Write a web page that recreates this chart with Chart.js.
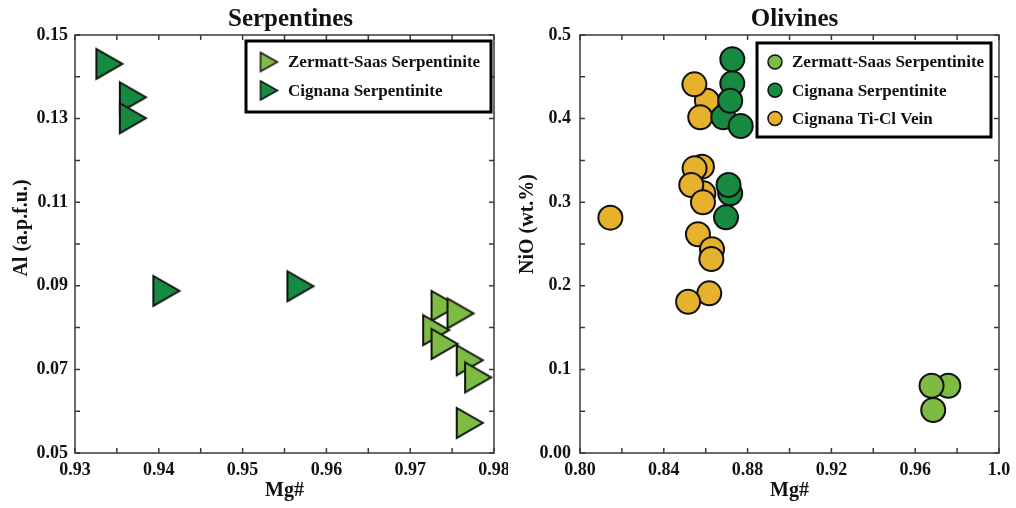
<!DOCTYPE html>
<html lang="en">
<head>
<meta charset="UTF-8" />
<title>Serpentines and Olivines</title>
<script src="https://cdn.jsdelivr.net/npm/chart.js"></script>
<style>
  body { margin: 0; background: #fff; }
  #wrap { position: relative; width: 1016px; height: 508px; }
  canvas { position: absolute; top: 0; }
</style>
</head>
<body>
<div id="wrap">
  <canvas id="serp" width="508" height="508" style="left:0"></canvas>
  <canvas id="oliv" width="508" height="508" style="left:508px"></canvas>
</div>
<script>
// Serpentines: Mg# vs Al (a.p.f.u.)
const serpZermattMg = [0.9741, 0.9731, 0.9760, 0.9741, 0.9771, 0.9781, 0.9771];
const serpZermattAl = [0.0852, 0.0794, 0.0834, 0.0761, 0.0722, 0.0681, 0.0572];
const serpCignanaMg = [0.9341, 0.9369, 0.9369, 0.9409, 0.9569];
const serpCignanaAl = [0.1431, 0.1351, 0.1301, 0.0888, 0.0899];

// Olivines: Mg# vs NiO (wt.%)
const olivZermattMg = [0.9758, 0.9678, 0.9686];
const olivZermattNiO = [0.0805, 0.0805, 0.0514];
const olivCignanaMg = [0.8727, 0.8684, 0.8717, 0.8767, 0.8727, 0.8717, 0.8709, 0.8697];
const olivCignanaNiO = [0.4422, 0.4016, 0.4214, 0.3911, 0.4710, 0.3106, 0.3206, 0.2819];
const olivVeinMg = [0.8606, 0.8546, 0.8574, 0.8582, 0.8547, 0.8589, 0.8531, 0.8587,
                    0.8145, 0.8563, 0.8630, 0.8627, 0.8617, 0.8516];
const olivVeinNiO = [0.4214, 0.4410, 0.4016, 0.3425, 0.3405, 0.3106, 0.3206, 0.2999,
                     0.2815, 0.2616, 0.2437, 0.2320, 0.1910, 0.1810];

// tick labels (other ticks are drawn unlabelled)
const serpXTicks = ['0.93', '0.94', '0.95', '0.96', '0.97', '0.98'];
const serpYTicks = ['0.05', '0.07', '0.09', '0.11', '0.13', '0.15'];
const olivXTicks = ['0.80', '0.84', '0.88', '0.92', '0.96', '1.0'];
const olivYTicks = ['0.00', '0.1', '0.2', '0.3', '0.4', '0.5'];

const LIGHT = '#7dbb43';
const DARK = '#178a42';
const GOLD = '#e6b22e';
const FONT = '"Liberation Serif", "Times New Roman", serif';

function pts(xs, ys) {
    return xs.map((x, i) => ({ x: x, y: ys[i] }));
}

// right-pointing triangle, centred on its bounding box
function triangle(w, h, fill, lw) {
    const pad = 4;
    const c = document.createElement('canvas');
    c.width = w + 2 * pad;
    c.height = h + 2 * pad;
    const g = c.getContext('2d');
    g.beginPath();
    g.moveTo(pad, pad);
    g.lineTo(pad + w, pad + h / 2);
    g.lineTo(pad, pad + h);
    g.closePath();
    g.fillStyle = fill;
    g.fill();
    g.lineWidth = lw;
    g.lineJoin = 'miter';
    g.strokeStyle = '#111';
    g.stroke();
    return c;
}

const frameLegend = {
    id: 'frameLegend',
    afterDatasetsDraw(chart, args, o) {
        const { ctx, chartArea: a, scales } = chart;
        ctx.save();
        // frame + inward ticks on all four sides
        ctx.strokeStyle = '#3a3a3a';
        ctx.lineWidth = 1.5;
        ctx.strokeRect(a.left, a.top, a.right - a.left, a.bottom - a.top);
        ctx.beginPath();
        scales.x.ticks.forEach(t => {
            const px = scales.x.getPixelForValue(t.value);
            ctx.moveTo(px, a.bottom); ctx.lineTo(px, a.bottom - 5);
            ctx.moveTo(px, a.top); ctx.lineTo(px, a.top + 5);
        });
        scales.y.ticks.forEach(t => {
            const py = scales.y.getPixelForValue(t.value);
            ctx.moveTo(a.left, py); ctx.lineTo(a.left + 5, py);
            ctx.moveTo(a.right, py); ctx.lineTo(a.right - 5, py);
        });
        ctx.stroke();

        // title
        ctx.fillStyle = '#111';
        ctx.font = 'bold 25px ' + FONT;
        ctx.textAlign = 'center';
        ctx.textBaseline = 'alphabetic';
        ctx.fillText(o.title, (a.left + a.right) / 2 + o.titleShift, 26);

        // y axis title (sits a little above the middle of the axis)
        ctx.save();
        ctx.font = 'bold 20px ' + FONT;
        ctx.textBaseline = 'middle';
        ctx.translate(o.yTitle.x, (a.top + a.bottom) / 2 - o.yTitle.lift);
        ctx.rotate(-Math.PI / 2);
        ctx.fillText(o.yTitle.text, 0, 0);
        ctx.restore();

        // legend box
        const b = o.box;
        ctx.fillStyle = '#fff';
        ctx.fillRect(b.x, b.y, b.w, b.h);
        ctx.lineWidth = 3;
        ctx.strokeStyle = '#000';
        ctx.strokeRect(b.x, b.y, b.w, b.h);
        ctx.font = 'bold 17px ' + FONT;
        ctx.textAlign = 'left';
        ctx.textBaseline = 'middle';
        chart.data.datasets.forEach((ds, i) => {
            const y = b.row0 + i * b.gap;
            if (ds.legendMarker) {
                const m = ds.legendMarker;
                ctx.drawImage(m, b.mx - m.width / 2, y - m.height / 2);
            } else {
                ctx.beginPath();
                ctx.arc(b.mx, y, 7, 0, Math.PI * 2);
                ctx.fillStyle = ds.backgroundColor;
                ctx.fill();
                ctx.lineWidth = 1.5;
                ctx.strokeStyle = '#111';
                ctx.stroke();
            }
            ctx.fillStyle = '#111';
            ctx.fillText(ds.label, b.tx, y + 1);
        });
        ctx.restore();
    }
};

function axis(min, max, step, labels, title, opts) {
    return {
        type: 'linear',
        min: min,
        max: max,
        grid: { display: false, drawTicks: false },
        border: { display: false },
        ticks: {
            stepSize: step,
            autoSkip: false,
            maxRotation: 0,
            padding: opts.tickPad,
            color: '#111',
            font: { family: FONT, size: 18, weight: 'bold' },
            callback: v => labels.find(s => Math.abs(parseFloat(s) - v) < 1e-9) || ''
        },
        title: {
            display: !!title,
            text: title,
            color: '#111',
            font: { family: FONT, size: 20, weight: 'bold' },
            padding: opts.titlePad
        },
        afterFit: opts.fit
    };
}

function xFit(s) { s.height = 55; s.paddingLeft = 0; s.paddingRight = 0; }

Chart.defaults.animation = false;

new Chart(document.getElementById('serp'), {
    type: 'scatter',
    data: {
        datasets: [
            {
                label: 'Zermatt-Saas Serpentinite',
                data: pts(serpZermattMg, serpZermattAl),
                backgroundColor: LIGHT,
                pointStyle: triangle(26, 30, LIGHT, 2),
                legendMarker: triangle(17, 19, LIGHT, 1.5)
            },
            {
                label: 'Cignana Serpentinite',
                data: pts(serpCignanaMg, serpCignanaAl),
                backgroundColor: DARK,
                pointStyle: triangle(26, 30, DARK, 2),
                legendMarker: triangle(17, 19, DARK, 1.5)
            }
        ]
    },
    options: {
        responsive: false,
        layout: { padding: { top: 35, right: 14, left: 0, bottom: 0 } },
        scales: {
            x: axis(0.93, 0.98, 0.005, serpXTicks, 'Mg#',
                { tickPad: 7, titlePad: { top: 0, bottom: 5 }, fit: xFit }),
            y: axis(0.05, 0.15, 0.01, serpYTicks, '',
                { tickPad: 7, titlePad: 0,
                  fit: s => { s.width = 75; s.paddingTop = 0; s.paddingBottom = 0; } })
        },
        plugins: {
            legend: { display: false },
            tooltip: { enabled: false },
            frameLegend: {
                title: 'Serpentines', titleShift: 6,
                yTitle: { text: 'Al (a.p.f.u.)', x: 22, lift: 16 },
                box: { x: 246, y: 41, w: 245, h: 71, row0: 62, gap: 28.5, mx: 269, tx: 288 }
            }
        }
    },
    plugins: [frameLegend]
});

new Chart(document.getElementById('oliv'), {
    type: 'scatter',
    data: {
        datasets: [
            {
                label: 'Zermatt-Saas Serpentinite',
                data: pts(olivZermattMg, olivZermattNiO),
                backgroundColor: LIGHT
            },
            {
                label: 'Cignana Serpentinite',
                data: pts(olivCignanaMg, olivCignanaNiO),
                backgroundColor: DARK
            },
            {
                label: 'Cignana Ti-Cl Vein',
                data: pts(olivVeinMg, olivVeinNiO),
                backgroundColor: GOLD
            }
        ]
    },
    options: {
        responsive: false,
        layout: { padding: { top: 35, right: 17, left: 0, bottom: 0 } },
        elements: {
            point: { pointStyle: 'circle', radius: 12, borderWidth: 2, borderColor: '#111' }
        },
        scales: {
            x: axis(0.8, 1.0, 0.02, olivXTicks, 'Mg#',
                { tickPad: 7, titlePad: { top: 0, bottom: 5 }, fit: xFit }),
            y: axis(0, 0.5, 0.05, olivYTicks, '',
                { tickPad: 9, titlePad: 0,
                  fit: s => { s.width = 72; s.paddingTop = 0; s.paddingBottom = 0; } })
        },
        plugins: {
            legend: { display: false },
            tooltip: { enabled: false },
            frameLegend: {
                title: 'Olivines', titleShift: 5,
                yTitle: { text: 'NiO (wt.%)', x: 20, lift: 20 },
                box: { x: 249, y: 43, w: 234, h: 94, row0: 62, gap: 28.2, mx: 267, tx: 284 }
            }
        }
    },
    plugins: [frameLegend]
});
</script>
</body>
</html>
